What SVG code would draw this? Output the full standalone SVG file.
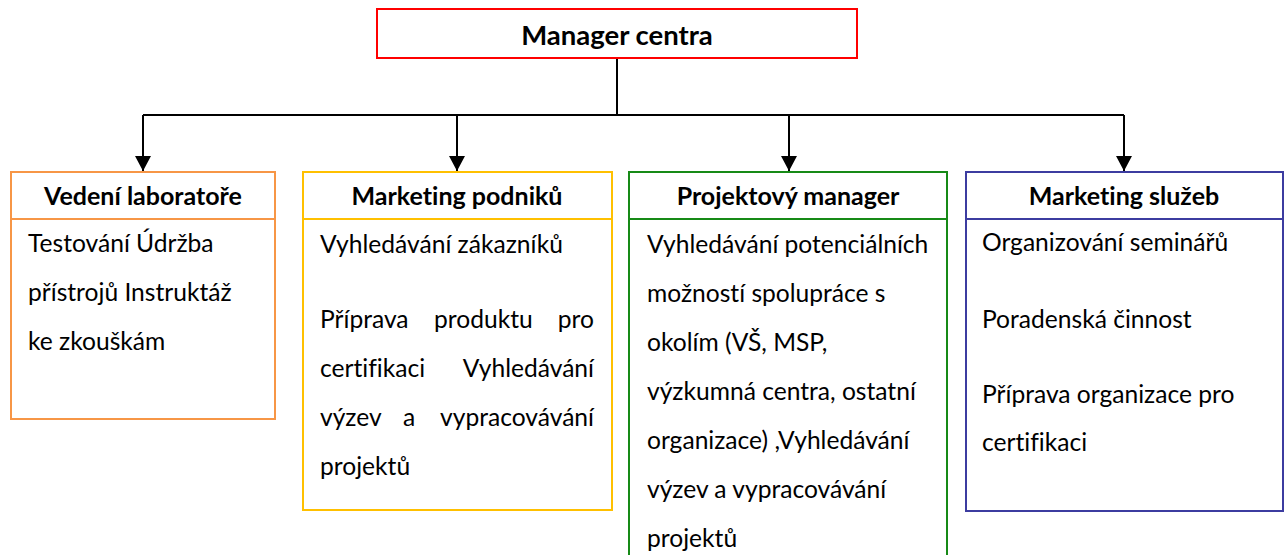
<svg xmlns="http://www.w3.org/2000/svg" width="1285" height="555" viewBox="0 0 1285 555">
  <style>
    text { font-variant-ligatures: none; font-feature-settings: "liga" 0, "dlig" 0; }
    .box { fill: #ffffff; stroke-width: 2; }
    .title { font-family: Lato, "Liberation Sans", sans-serif; font-weight: bold; font-size: 25px; fill: #000000; text-anchor: middle; }
    .top-title { font-size: 27.5px; }
    .body { font-family: Lato, "Liberation Sans", sans-serif; font-size: 24.6px; fill: #000000; }
    .end { text-anchor: end; }
    .link { fill: none; stroke: #000000; stroke-width: 2; }
  </style>
  <defs>
    <marker id="arrow" markerUnits="userSpaceOnUse" markerWidth="16" markerHeight="16" refX="15" refY="8" orient="auto">
      <path d="M0,0 L15,8 L0,16 Z" fill="#000000"/>
    </marker>
  </defs>

  <rect width="1285" height="555" fill="#ffffff"/>

  <!-- connectors -->
  <g id="connectors">
    <path class="link" d="M617,58 V115"/>
    <path class="link" d="M143,115 H1124"/>
    <path class="link" d="M143,115 V171" marker-end="url(#arrow)"/>
    <path class="link" d="M457,115 V171" marker-end="url(#arrow)"/>
    <path class="link" d="M789,115 V171" marker-end="url(#arrow)"/>
    <path class="link" d="M1124,115 V171" marker-end="url(#arrow)"/>
  </g>

  <!-- top node -->
  <g id="manager-centra">
    <rect class="box" x="377" y="9" width="480" height="49" stroke="#ff0000"/>
    <text class="title top-title" x="617" y="45">Manager centra</text>
  </g>

  <!-- department nodes -->
  <g id="vedeni-laboratore">
    <rect class="box" x="11" y="172" width="264" height="247" stroke="#f79646"/>
    <line x1="11" y1="219" x2="275" y2="219" stroke="#f79646" stroke-width="2"/>
    <text class="title" x="143" y="205">Vedení laboratoře</text>
    <text class="body" x="28" y="252">Testování Údržba</text>
    <text class="body" x="28" y="301">přístrojů Instruktáž</text>
    <text class="body" x="28" y="350">ke zkouškám</text>
  </g>

  <g id="marketing-podniku">
    <rect class="box" x="303" y="172" width="309" height="338" stroke="#ffc000"/>
    <line x1="303" y1="219" x2="612" y2="219" stroke="#ffc000" stroke-width="2"/>
    <text class="title" x="457" y="205">Marketing podniků</text>
    <text class="body" x="320" y="253">Vyhledávání zákazníků</text>
    <text class="body" x="320" y="328">Příprava</text>
    <text class="body" x="434" y="328">produktu</text>
    <text class="body end" x="594" y="328">pro</text>
    <text class="body" x="320" y="377">certifikaci</text>
    <text class="body end" x="594" y="377">Vyhledávání</text>
    <text class="body" x="320" y="426">výzev</text>
    <text class="body" x="403" y="426">a</text>
    <text class="body end" x="594" y="426">vypracovávání</text>
    <text class="body" x="320" y="475">projektů</text>
  </g>

  <g id="projektovy-manager">
    <rect class="box" x="629" y="172" width="318" height="392" stroke="#178a17"/>
    <line x1="629" y1="219" x2="947" y2="219" stroke="#178a17" stroke-width="2"/>
    <text class="title" x="788" y="205">Projektový manager</text>
    <text class="body" x="647" y="253">Vyhledávání potenciálních</text>
    <text class="body" x="647" y="302">možností spolupráce s</text>
    <text class="body" x="647" y="351">okolím (VŠ, MSP,</text>
    <text class="body" x="647" y="400">výzkumná centra, ostatní</text>
    <text class="body" x="647" y="449">organizace) ,Vyhledávání</text>
    <text class="body" x="647" y="498">výzev a vypracovávání</text>
    <text class="body" x="647" y="547">projektů</text>
  </g>

  <g id="marketing-sluzeb">
    <rect class="box" x="966" y="172" width="317" height="339" stroke="#3c3ca0"/>
    <line x1="966" y1="219" x2="1283" y2="219" stroke="#3c3ca0" stroke-width="2"/>
    <text class="title" x="1124" y="205">Marketing služeb</text>
    <text class="body" x="982" y="251">Organizování seminářů</text>
    <text class="body" x="982" y="328">Poradenská činnost</text>
    <text class="body" x="982" y="403">Příprava organizace pro</text>
    <text class="body" x="982" y="451">certifikaci</text>
  </g>
</svg>
